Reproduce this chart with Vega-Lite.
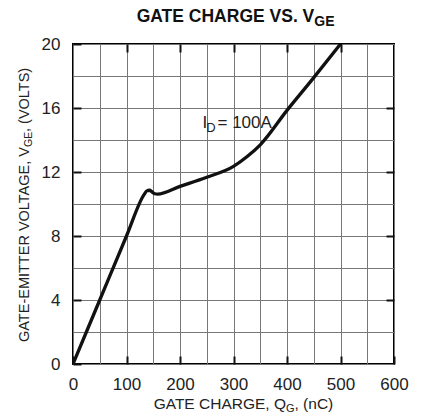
{
  "$schema": "https://vega.github.io/schema/vega-lite/v6.json",
  "width": 321,
  "height": 320,
  "autosize": {"type": "none"},
  "padding": {"left": 73, "top": 44, "right": 30, "bottom": 52},
  "background": "white",
  "config": {
    "view": {"stroke": "black", "strokeWidth": 2},
    "font": "Liberation Sans",
    "text": {"font": "Liberation Sans", "color": "#222"}
  },
  "resolve": {"axis": {"x": "independent", "y": "independent"}},
  "layer": [
    {
      "data": {"values": [
        {"q": 0, "v": 0},
        {"q": 50, "v": 4.0},
        {"q": 100, "v": 8.0},
        {"q": 133, "v": 10.6},
        {"q": 138, "v": 10.82},
        {"q": 143, "v": 10.86},
        {"q": 148, "v": 10.75},
        {"q": 153, "v": 10.64},
        {"q": 158, "v": 10.62},
        {"q": 200, "v": 11.1},
        {"q": 250, "v": 11.67},
        {"q": 300, "v": 12.35},
        {"q": 325, "v": 12.95},
        {"q": 350, "v": 13.7},
        {"q": 400, "v": 15.85},
        {"q": 450, "v": 17.9},
        {"q": 500, "v": 20.0}
      ]},
      "mark": {"type": "line", "color": "#111", "strokeWidth": 3.3, "strokeCap": "round", "strokeJoin": "round", "interpolate": "monotone", "clip": true},
      "encoding": {
        "x": {
          "field": "q", "type": "quantitative",
          "scale": {"domain": [0, 600], "nice": false},
          "axis": {
            "title": null,
            "values": [0, 50, 100, 150, 200, 250, 300, 350, 400, 450, 500, 550, 600],
            "grid": true, "gridColor": "#777", "gridWidth": 1,
            "domain": false,
            "tickSize": -8, "tickWidth": 2,
            "tickColor": {"condition": {"test": "datum.value % 100 === 0", "value": "#111"}, "value": "transparent"},
            "labelExpr": "datum.value % 100 === 0 ? datum.label : ''",
            "labelFont": "Liberation Sans", "labelFontSize": 17, "labelColor": "#222",
            "labelPadding": 20, "labelFlush": false, "labelOverlap": false
          }
        },
        "y": {
          "field": "v", "type": "quantitative",
          "scale": {"domain": [0, 20], "nice": false},
          "axis": {
            "title": null,
            "values": [0, 2, 4, 6, 8, 10, 12, 14, 16, 18, 20],
            "grid": true, "gridColor": "#777", "gridWidth": 1,
            "domain": false,
            "tickSize": -8, "tickWidth": 2,
            "tickColor": {"condition": {"test": "datum.value % 4 === 0", "value": "#111"}, "value": "transparent"},
            "labelExpr": "datum.value % 4 === 0 ? datum.label : ''",
            "labelFont": "Liberation Sans", "labelFontSize": 17, "labelColor": "#222",
            "labelPadding": 21, "labelFlush": false, "labelOverlap": false
          }
        }
      }
    },
    {
      "data": {"values": [{"q": 0, "v": 0}, {"q": 600, "v": 20}]},
      "mark": {"type": "line", "opacity": 0},
      "encoding": {
        "x": {"field": "q", "type": "quantitative",
          "axis": {"orient": "top", "title": null, "values": [100, 200, 300, 400, 500], "grid": false, "domain": false, "labels": false, "tickSize": -8, "tickWidth": 2, "tickColor": "#111"}},
        "y": {"field": "v", "type": "quantitative",
          "axis": {"orient": "right", "title": null, "values": [4, 8, 12, 16], "grid": false, "domain": false, "labels": false, "tickSize": -8, "tickWidth": 2, "tickColor": "#111"}}
      }
    },
    {
      "data": {"values": [{"q": 451, "v": 21.39, "t": "GATE CHARGE VS. V"}]},
      "mark": {"type": "text", "align": "right", "baseline": "alphabetic", "fontSize": 17.5, "fontWeight": "bold", "color": "#111"},
      "encoding": {"x": {"field": "q", "type": "quantitative", "axis": null}, "y": {"field": "v", "type": "quantitative", "axis": null}, "text": {"field": "t"}}
    },
    {
      "data": {"values": [{"q": 451, "v": 21.39, "t": "GE"}]},
      "mark": {"type": "text", "align": "left", "baseline": "alphabetic", "fontSize": 14, "fontWeight": "bold", "color": "#111", "dy": 4},
      "encoding": {"x": {"field": "q", "type": "quantitative", "axis": null}, "y": {"field": "v", "type": "quantitative", "axis": null}, "text": {"field": "t"}}
    },
    {
      "data": {"values": [{"q": 242.1, "v": 14.73, "t": "I"}, {"q": 270.1, "v": 14.73, "t": "= 100A"}]},
      "mark": {"type": "text", "align": "left", "baseline": "alphabetic", "fontSize": 17},
      "encoding": {"x": {"field": "q", "type": "quantitative", "axis": null}, "y": {"field": "v", "type": "quantitative", "axis": null}, "text": {"field": "t"}}
    },
    {
      "data": {"values": [{"q": 249.0, "v": 14.73, "t": "D"}]},
      "mark": {"type": "text", "align": "left", "baseline": "alphabetic", "fontSize": 13, "dy": 4},
      "encoding": {"x": {"field": "q", "type": "quantitative", "axis": null}, "y": {"field": "v", "type": "quantitative", "axis": null}, "text": {"field": "t"}}
    },
    {
      "data": {"values": [{"q": 398.1, "v": -2.81, "t": "GATE CHARGE, Q"}]},
      "mark": {"type": "text", "align": "right", "baseline": "alphabetic", "fontSize": 15.5},
      "encoding": {"x": {"field": "q", "type": "quantitative", "axis": null}, "y": {"field": "v", "type": "quantitative", "axis": null}, "text": {"field": "t"}}
    },
    {
      "data": {"values": [{"q": 398.1, "v": -2.81, "t": "G"}]},
      "mark": {"type": "text", "align": "left", "baseline": "alphabetic", "fontSize": 11, "dy": 3},
      "encoding": {"x": {"field": "q", "type": "quantitative", "axis": null}, "y": {"field": "v", "type": "quantitative", "axis": null}, "text": {"field": "t"}}
    },
    {
      "data": {"values": [{"q": 414.0, "v": -2.81, "t": ", (nC)"}]},
      "mark": {"type": "text", "align": "left", "baseline": "alphabetic", "fontSize": 15.5},
      "encoding": {"x": {"field": "q", "type": "quantitative", "axis": null}, "y": {"field": "v", "type": "quantitative", "axis": null}, "text": {"field": "t"}}
    },
    {
      "data": {"values": [{"q": -82.2, "v": 13.56, "t": "GATE-EMITTER VOLTAGE, V"}]},
      "mark": {"type": "text", "align": "right", "baseline": "alphabetic", "fontSize": 14.5, "angle": 270},
      "encoding": {"x": {"field": "q", "type": "quantitative", "axis": null}, "y": {"field": "v", "type": "quantitative", "axis": null}, "text": {"field": "t"}}
    },
    {
      "data": {"values": [{"q": -82.2, "v": 13.56, "t": "GE"}]},
      "mark": {"type": "text", "align": "left", "baseline": "alphabetic", "fontSize": 10.5, "angle": 270, "dy": 3},
      "encoding": {"x": {"field": "q", "type": "quantitative", "axis": null}, "y": {"field": "v", "type": "quantitative", "axis": null}, "text": {"field": "t"}}
    },
    {
      "data": {"values": [{"q": -82.2, "v": 14.5, "t": ", (VOLTS)"}]},
      "mark": {"type": "text", "align": "left", "baseline": "alphabetic", "fontSize": 14.5, "angle": 270},
      "encoding": {"x": {"field": "q", "type": "quantitative", "axis": null}, "y": {"field": "v", "type": "quantitative", "axis": null}, "text": {"field": "t"}}
    }
  ]
}
